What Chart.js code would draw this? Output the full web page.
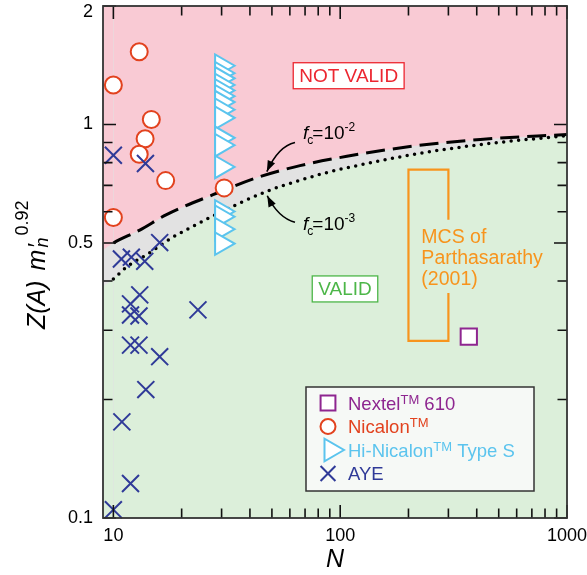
<!DOCTYPE html>
<html>
<head>
<meta charset="utf-8">
<script src="https://cdn.jsdelivr.net/npm/chart.js@4.4.1/dist/chart.umd.min.js"></script>
<style>
  html, body { margin: 0; padding: 0; background: #fff; }
</style>
</head>
<body>
<canvas id="chart" width="587" height="575"></canvas>
<script>
const FONT = "'Liberation Sans', Arial, Helvetica, sans-serif";

// data (N, Z(A) m'n^0.92)
const nextelN = [369];
const nextelZ = [0.289];

const nicalonN = [10, 13, 14.7, 13.8, 13, 17, 10, 30.8];
const nicalonZ = [1.26, 1.53, 1.03, 0.92, 0.84, 0.72, 0.58, 0.69];

const hiNicalonN = [30, 30, 30, 30, 30, 30, 30, 30, 30, 30, 30, 30, 30, 30, 30, 30];
const hiNicalonZ = [1.41, 1.35, 1.31, 1.26, 1.22, 1.18, 1.14, 1.09, 1.04, 0.925, 0.886, 0.78, 0.601, 0.583, 0.542, 0.498];

const ayeN = [10, 13.85, 16, 10.85, 12, 13.75, 13.07, 11.9, 11.9, 12.97, 23.6, 11.9, 12.97, 16, 13.9, 10.9, 11.9, 10];
const ayeZ = [0.835, 0.796, 0.501, 0.455, 0.46, 0.449, 0.369, 0.35, 0.328, 0.326, 0.338, 0.275, 0.275, 0.257, 0.212, 0.1755, 0.1224, 0.105];

// f_c = 10^-2 (dashed) and 10^-3 (dotted) boundaries, first point = left edge of the shading
const fc2N = [9, 10, 13.07, 17.15, 27.5, 44.3, 66.5, 107, 210, 415, 1000];
const fc2Z = [0.48, 0.5, 0.539, 0.59, 0.663, 0.737, 0.786, 0.83, 0.881, 0.916, 0.943];
const fc3N = [9, 10, 11.41, 14.37, 18.05, 21, 26.6, 47.4, 66.5, 85.9, 107, 210, 415, 1000];
const fc3Z = [0.387, 0.405, 0.434, 0.471, 0.515, 0.54, 0.58, 0.676, 0.721, 0.753, 0.776, 0.839, 0.889, 0.937];

// MCS range of Parthasarathy (2001), bracket outline
const mcsN = [300, 300, 200, 200, 300, 300];
const mcsZ = [0.573, 0.768, 0.768, 0.282, 0.282, 0.373];

const xTickValues = [10, 20, 30, 40, 50, 60, 70, 80, 90, 100, 200, 300, 400, 500, 600, 700, 800, 900, 1000];
const xTickLabels = [10, 100, 1000];
const yTickValues = [0.1, 0.2, 0.3, 0.4, 0.5, 0.6, 0.7, 0.8, 0.9, 1, 2];
const yTickLabels = [0.1, 0.5, 1, 2];

const colNextel = '#8e2690';
const colNicalon = '#e2421e';
const colHiNicalon = '#5bc4ee';
const colAYE = '#2f3a98';
const colMCS = '#f7941d';
const pinkFill = '#f9cad4';
const greenFill = '#dcefda';
const grayFill = '#e2e2e2';

function pts(xs, ys) {
    return xs.map((x, i) => ({ x: x, y: ys[i] }));
}

function drawRich(ctx, x, y, parts, color) {
    let cx = x;
    parts.forEach(p => {
        ctx.font = p.f + ' ' + FONT;
        ctx.fillStyle = p.c || color;
        cx += p.dx || 0;
        ctx.fillText(p.t, cx, y + (p.dy || 0));
        if (p.adv !== false) cx += ctx.measureText(p.t).width;
    });
    return cx;
}

function drawArrow(ctx, chart, a) {
    const xs = chart.scales.x, ys = chart.scales.y;
    const p = a.map(q => [xs.getPixelForValue(q[0]), ys.getPixelForValue(q[1])]);
    ctx.strokeStyle = '#000';
    ctx.fillStyle = '#000';
    ctx.lineWidth = 1.6;
    ctx.beginPath();
    ctx.moveTo(p[0][0], p[0][1]);
    ctx.quadraticCurveTo(p[1][0], p[1][1], p[2][0], p[2][1]);
    ctx.stroke();
    const ang = Math.atan2(p[2][1] - p[1][1], p[2][0] - p[1][0]);
    ctx.beginPath();
    ctx.moveTo(p[2][0], p[2][1]);
    ctx.lineTo(p[2][0] - 11 * Math.cos(ang) + 4 * Math.sin(ang), p[2][1] - 11 * Math.sin(ang) - 4 * Math.cos(ang));
    ctx.lineTo(p[2][0] - 11 * Math.cos(ang) - 4 * Math.sin(ang), p[2][1] - 11 * Math.sin(ang) + 4 * Math.cos(ang));
    ctx.closePath();
    ctx.fill();
}

function boxedLabel(ctx, chart, at, text, color) {
    const x = chart.scales.x.getPixelForValue(at[0]);
    const y = chart.scales.y.getPixelForValue(at[1]);
    ctx.font = '19px ' + FONT;
    const w = ctx.measureText(text).width + 12;
    ctx.fillStyle = '#fff';
    ctx.fillRect(x - w / 2, y - 13, w, 26);
    ctx.strokeStyle = color;
    ctx.lineWidth = 1.3;
    ctx.strokeRect(x - w / 2, y - 13, w, 26);
    ctx.fillStyle = color;
    ctx.textAlign = 'center';
    ctx.textBaseline = 'middle';
    ctx.fillText(text, x, y + 1);
    ctx.textAlign = 'left';
    ctx.textBaseline = 'alphabetic';
}

const legendItems = [
    { style: 'rect', r: 10.5, rot: 0, color: colNextel, parts: [{ t: 'Nextel', f: '18.5px' }, { t: 'TM', f: '13px', dy: -6 }, { t: ' 610', f: '18.5px' }] },
    { style: 'circle', r: 7.5, rot: 0, color: colNicalon, parts: [{ t: 'Nicalon', f: '18.5px' }, { t: 'TM', f: '13px', dy: -6 }] },
    { style: 'triangle', r: 13, rot: 90, color: colHiNicalon, parts: [{ t: 'Hi-Nicalon', f: '18.5px' }, { t: 'TM', f: '13px', dy: -6 }, { t: ' Type S', f: '18.5px' }] },
    { style: 'crossRot', r: 10.5, rot: 0, color: colAYE, parts: [{ t: 'AYE', f: '18.5px' }] }
];

const decor = {
    id: 'decor',
    beforeDraw(chart) {
        const a = chart.chartArea, ctx = chart.ctx;
        ctx.save();
        ctx.fillStyle = grayFill;
        ctx.fillRect(a.left, a.top, a.right - a.left, a.bottom - a.top);
        ctx.restore();
    },
    afterDatasetsDraw(chart) {
        const a = chart.chartArea, ctx = chart.ctx;
        const xs = chart.scales.x, ys = chart.scales.y;
        ctx.save();

        // inward ticks on all four sides
        ctx.strokeStyle = '#111';
        ctx.lineWidth = 1.6;
        ctx.beginPath();
        xTickValues.forEach(v => {
            const p = xs.getPixelForValue(v);
            const len = xTickLabels.includes(v) ? 13 : 9.5;
            ctx.moveTo(p, a.bottom); ctx.lineTo(p, a.bottom - len);
            ctx.moveTo(p, a.top); ctx.lineTo(p, a.top + len);
        });
        yTickValues.forEach(v => {
            const p = ys.getPixelForValue(v);
            const len = yTickLabels.includes(v) ? 13 : 9.5;
            ctx.moveTo(a.left, p); ctx.lineTo(a.left + len, p);
            ctx.moveTo(a.right, p); ctx.lineTo(a.right - len, p);
        });
        ctx.stroke();
        ctx.strokeStyle = '#333';
        ctx.lineWidth = 1.8;
        ctx.strokeRect(a.left, a.top, a.right - a.left, a.bottom - a.top);

        // region labels
        boxedLabel(ctx, chart, [109, 1.33], 'NOT VALID', '#ec2630');
        boxedLabel(ctx, chart, [105, 0.382], 'VALID', '#4cb648');

        // f_c labels and arrows
        const fx = xs.getPixelForValue(68.6);
        drawRich(ctx, fx, ys.getPixelForValue(0.916), [
            { t: 'f', f: 'italic 19px' }, { t: 'c', f: '12px', dy: 5, dx: -1 }, { t: '=10', f: '19px', dx: -1 }, { t: '-2', f: '12px', dy: -8 }
        ], '#000');
        drawRich(ctx, fx, ys.getPixelForValue(0.54), [
            { t: 'f', f: 'italic 19px' }, { t: 'c', f: '12px', dy: 5, dx: -1 }, { t: '=10', f: '19px', dx: -1 }, { t: '-3', f: '12px', dy: -8 }
        ], '#000');
        drawArrow(ctx, chart, [[63.2, 0.9], [53.4, 0.881], [47.5, 0.759]]);
        drawArrow(ctx, chart, [[63.2, 0.564], [53.2, 0.58], [47.7, 0.659]]);

        // MCS text
        ctx.font = '19.5px ' + FONT;
        ctx.fillStyle = colMCS;
        const mx = xs.getPixelForValue(228), my = ys.getPixelForValue(0.5);
        ['MCS of', 'Parthasarathy', '(2001)'].forEach((s, i) => ctx.fillText(s, mx, my + i * 21));

        // legend
        const lx = a.right - 261, ly = a.bottom - 131;
        ctx.fillStyle = '#f6f9f6';
        ctx.fillRect(lx, ly, 228, 104);
        ctx.strokeStyle = '#333';
        ctx.lineWidth = 1.5;
        ctx.strokeRect(lx, ly, 228, 104);
        legendItems.forEach((it, i) => {
            const ry = ly + 16 + i * 23.5;
            ctx.fillStyle = '#fff';
            ctx.strokeStyle = it.color;
            ctx.lineWidth = 2;
            Chart.helpers.drawPoint(ctx, { pointStyle: it.style, radius: it.r, rotation: it.rot, borderWidth: 2 }, lx + 22 + (it.style === 'triangle' ? 3 : 0), ry);
            drawRich(ctx, lx + 42, ry + 6.5, it.parts, it.color);
        });

        // y axis title
        ctx.translate(45, a.top + 323);
        ctx.rotate(-Math.PI / 2);
        drawRich(ctx, 0, 0, [
            { t: 'Z(A)', f: 'italic 25px' },
            { t: 'm', f: 'italic 25px', dx: 10 },
            { t: '\u2032', f: 'italic 24px', adv: false, dx: 1 },
            { t: 'n', f: 'italic 18px', dy: 3, dx: 1 },
            { t: '0.92', f: '18px', dy: -17, dx: 2 }
        ], '#000');
        ctx.restore();
    }
};

const ctx = document.getElementById('chart').getContext('2d');
const chart = new Chart(ctx, {
    type: 'scatter',
    data: {
        datasets: [
            {
                label: 'AYE', data: pts(ayeN, ayeZ), pointStyle: 'crossRot', pointRadius: 12,
                borderColor: colAYE, backgroundColor: colAYE, pointBorderWidth: 2, clip: false
            },
            {
                label: 'Nicalon', data: pts(nicalonN, nicalonZ), pointStyle: 'circle', pointRadius: 8.5,
                borderColor: colNicalon, backgroundColor: '#fff', pointBorderWidth: 2, clip: false
            },
            {
                label: 'Hi-Nicalon Type S', data: pts(hiNicalonN, hiNicalonZ), pointStyle: 'triangle', pointRotation: 90,
                pointRadius: 13, borderColor: colHiNicalon, backgroundColor: '#fff', pointBorderWidth: 2, clip: false
            },
            {
                label: 'Nextel 610', data: pts(nextelN, nextelZ), pointStyle: 'rect', pointRadius: 11.5,
                borderColor: colNextel, backgroundColor: '#fff', pointBorderWidth: 2, clip: false
            },
            {
                label: 'MCS of Parthasarathy (2001)', data: pts(mcsN, mcsZ), showLine: true, pointRadius: 0,
                borderColor: colMCS, borderWidth: 2.2, tension: 0, fill: false
            },
            {
                label: 'fc=1e-2', data: pts(fc2N, fc2Z), showLine: true, pointRadius: 0,
                borderColor: '#000', borderWidth: 3, borderDash: [19, 8],
                cubicInterpolationMode: 'monotone', fill: 'end', backgroundColor: pinkFill,
                segment: { borderColor: c => c.p0DataIndex === 0 ? 'rgba(0,0,0,0)' : '#000' }
            },
            {
                label: 'fc=1e-3', data: pts(fc3N, fc3Z), showLine: true, pointRadius: 0,
                borderColor: '#000', borderWidth: 3.5, borderDash: [0, 7.5], borderCapStyle: 'round',
                cubicInterpolationMode: 'monotone', fill: 'start', backgroundColor: greenFill,
                segment: { borderColor: c => c.p0DataIndex === 0 ? 'rgba(0,0,0,0)' : '#000' }
            }
        ]
    },
    options: {
        responsive: false,
        animation: false,
        events: [],
        layout: { autoPadding: false, padding: { top: 6, right: 20, left: 0, bottom: 0 } },
        plugins: {
            legend: { display: false },
            tooltip: { enabled: false },
            filler: { drawTime: 'beforeDatasetsDraw' }
        },
        scales: {
            x: {
                type: 'logarithmic', min: 9, max: 1000, bounds: 'data', position: 'bottom',
                grid: { display: false, drawTicks: false },
                border: { display: false },
                afterBuildTicks: s => { s.ticks = xTickValues.map(v => ({ value: v })); },
                afterFit: s => { s.height = 57; s.paddingLeft = 0; s.paddingRight = 0; },
                ticks: {
                    autoSkip: false, maxRotation: 0, padding: 7, color: '#000',
                    font: { family: FONT, size: 18 },
                    callback: v => xTickLabels.includes(v) ? String(v) : ''
                },
                title: {
                    display: true, text: 'N', color: '#000',
                    font: { family: FONT, size: 25, style: 'italic' }, padding: { top: 0, bottom: 0 }
                }
            },
            y: {
                type: 'logarithmic', min: 0.1, max: 2, bounds: 'data',
                grid: { display: false, drawTicks: false },
                border: { display: false },
                afterBuildTicks: s => { s.ticks = yTickValues.map(v => ({ value: v })); },
                afterFit: s => { s.width = 103; s.paddingTop = 0; s.paddingBottom = 0; },
                ticks: {
                    autoSkip: false, padding: 10, color: '#000',
                    font: { family: FONT, size: 18, lineHeight: 0.67 },
                    callback: v => v === 2 ? ['', '2'] : (yTickLabels.includes(v) ? String(v) : '')
                }
            }
        }
    },
    plugins: [decor]
});
</script>
</body>
</html>
